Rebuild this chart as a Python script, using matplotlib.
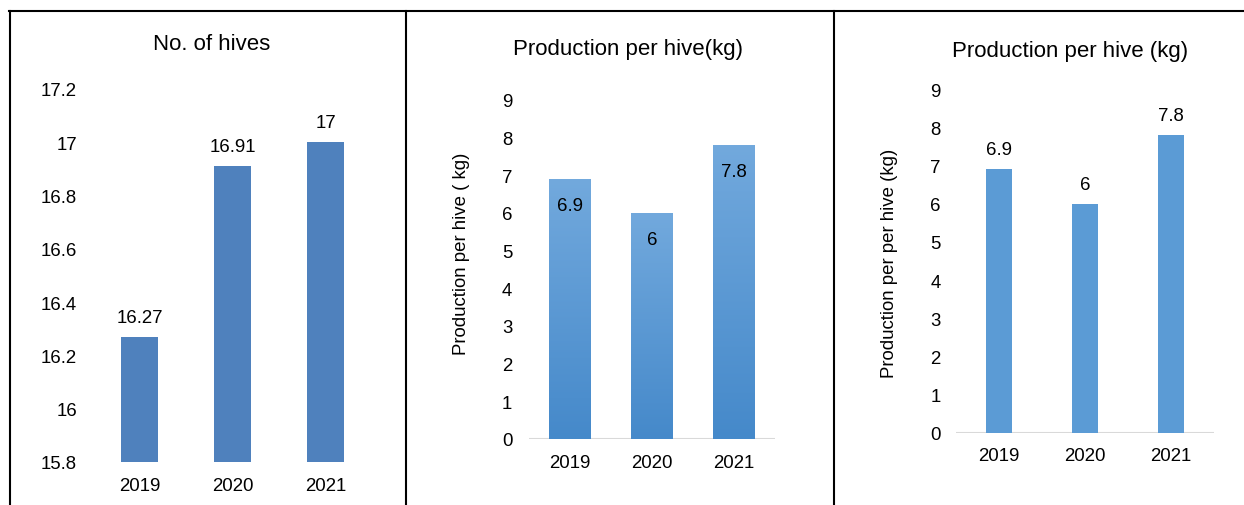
import numpy as np
import matplotlib
matplotlib.use('Agg')
from matplotlib import pyplot as plt
from matplotlib.lines import Line2D
from matplotlib.colors import LinearSegmentedColormap

years = ['2019', '2020', '2021']
hives = [16.27, 16.91, 17]
prod_a = [6.9, 6, 7.8]
prod_b = [6.9, 6, 7.8]

hive_ticks = [15.8, 16, 16.2, 16.4, 16.6, 16.8, 17, 17.2]
hive_ticklabels = ['15.8', '16', '16.2', '16.4', '16.6', '16.8', '17', '17.2']
prod_ticks = list(range(10))

plt.rcParams['font.family'] = ['Liberation Sans', 'DejaVu Sans']
W, H = 1244, 506
FS = 13.4      # tick and data label size
TFS = 16       # panel titles
fig = plt.figure(figsize=(W / 100, H / 100), dpi=100)


def px_axes(left, bottom_y, right, top_y):
    # pixel box (y measured from the top) -> figure axes
    return fig.add_axes([left / W, 1 - bottom_y / H, (right - left) / W, (bottom_y - top_y) / H])


def style(ax):
    for s in ax.spines.values():
        s.set_visible(False)
    ax.tick_params(length=0, labelsize=FS, colors='black')
    ax.set_xlim(-0.5, 2.5)


x = np.arange(len(years))

# --- No. of hives
ax1 = px_axes(93, 463, 372, 90)
style(ax1)
ax1.bar(x, [h - 15.8 for h in hives], bottom=15.8, width=0.4, color='#4F81BD')
ax1.set_ylim(15.8, 17.2)
ax1.set_yticks(hive_ticks, hive_ticklabels)
ax1.set_xticks(x, years)
ax1.tick_params(axis='y', pad=11.5)
ax1.tick_params(axis='x', pad=11)
for xi, v in zip(x, hives):
    ax1.annotate(f'{v:g}', (xi, v), xytext=(0, 8), textcoords='offset points',
                 ha='center', va='bottom', fontsize=FS)
fig.text(212 / W, 1 - 45 / H, 'No. of hives', ha='center', va='center', fontsize=TFS)

# --- Production per hive(kg), gradient bars with labels inside
ax2 = px_axes(529, 440, 775, 101)
style(ax2)
grad = LinearSegmentedColormap.from_list('g', ['#4589CA', '#72A9DD'])
bw = 0.51
for xi, v in zip(x, prod_a):
    ax2.imshow(np.linspace(0, 1, 256).reshape(-1, 1), cmap=grad, origin='lower',
               extent=(xi - bw / 2, xi + bw / 2, 0, v), aspect='auto', zorder=2)
    ax2.annotate(f'{v:g}', (xi, v), xytext=(0, -13), textcoords='offset points',
                 ha='center', va='top', fontsize=FS, zorder=3)
ax2.set_xlim(-0.5, 2.5)
ax2.set_ylim(0, 9)
ax2.axhline(0, color='#D9D9D9', lw=2.2, zorder=1)
ax2.set_yticks(prod_ticks)
ax2.set_xticks(x, years)
ax2.tick_params(axis='y', pad=12)
ax2.tick_params(axis='x', pad=11)
fig.text(628 / W, 1 - 50 / H, 'Production per hive(kg)', ha='center', va='center', fontsize=TFS)
fig.text(462 / W, 1 - 254 / H, 'Production per hive ( kg)', rotation=90,
         ha='center', va='center', fontsize=FS)

# --- Production per hive (kg), plain bars with labels above
ax3 = px_axes(956, 434, 1214, 90)
style(ax3)
ax3.bar(x, prod_b, width=0.31, color='#5B9BD5', zorder=2)
ax3.axhline(0, color='#D9D9D9', lw=2.2, zorder=1)
ax3.set_ylim(0, 9)
ax3.set_yticks(prod_ticks)
ax3.set_xticks(x, years)
ax3.tick_params(axis='y', pad=11)
ax3.tick_params(axis='x', pad=10)
for xi, v in zip(x, prod_b):
    ax3.annotate(f'{v:g}', (xi, v), xytext=(0, 8), textcoords='offset points',
                 ha='center', va='bottom', fontsize=FS)
fig.text(1070 / W, 1 - 52 / H, 'Production per hive (kg)', ha='center', va='center', fontsize=TFS)
fig.text(889 / W, 1 - 263 / H, 'Production per per hive (kg)', rotation=90,
         ha='center', va='center', fontsize=FS)

# table-style frame lines around the panels
frame = dict(color='black', lw=1.5, transform=fig.transFigure)
fig.add_artist(Line2D([9 / W, 1], [1 - 12 / H, 1 - 12 / H], **frame))
for xv in (10, 406, 834):
    fig.add_artist(Line2D([xv / W, xv / W], [0, 1 - 12 / H], **frame))

fig.savefig('out.png', dpi=100)
